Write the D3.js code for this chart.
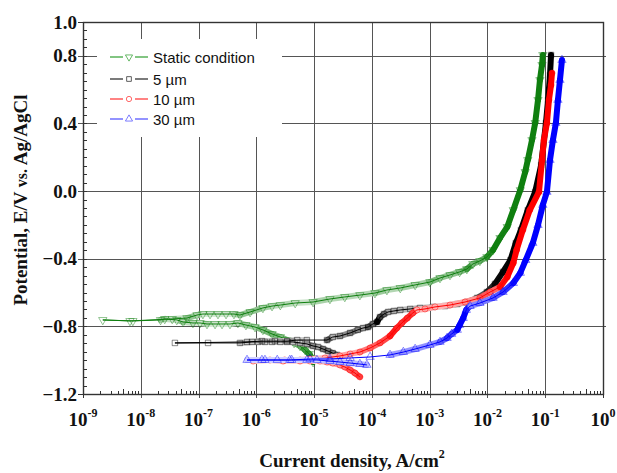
<!DOCTYPE html>
<html>
<head>
<meta charset="utf-8">
<script src="https://cdn.jsdelivr.net/npm/d3@7"></script>
<style>
  body { margin: 0; background: #fff; }
  svg { display: block; }
</style>
</head>
<body>
<svg id="chart" width="617" height="473"></svg>
<script>
// Potentiodynamic polarization curves: [current density (A/cm^2), potential (V vs Ag/AgCl)]
const seriesNames = ["Static condition", "5 µm", "10 µm", "30 µm"];

const staticCondition = [
  [9.6e-6, -1.011], [9.2e-6, -0.987], [8.2e-6, -0.963], [7.0e-6, -0.940], [5.7e-6, -0.916],
  [4.5e-6, -0.898], [3.4e-6, -0.881], [2.6e-6, -0.863], [1.87e-6, -0.845], [1.30e-6, -0.821],
  [9.5e-7, -0.804], [6.6e-7, -0.792], [4.8e-7, -0.780], [3.5e-7, -0.786], [2.55e-7, -0.786],
  [1.93e-7, -0.786], [1.40e-7, -0.786], [1.06e-7, -0.780], [8.0e-8, -0.780], [5.4e-8, -0.774],
  [4.2e-8, -0.762], [2.6e-8, -0.756], [2.2e-8, -0.762], [7.3e-9, -0.768], [2.2e-9, -0.762],
  [6.5e-9, -0.768], [3.5e-8, -0.756], [6.3e-8, -0.751], [9.4e-8, -0.733], [1.19e-7, -0.727],
  [1.58e-7, -0.727], [2.17e-7, -0.727], [2.99e-7, -0.727], [4.1e-7, -0.727], [5.2e-7, -0.733],
  [7.8e-7, -0.715], [1.30e-6, -0.691], [1.87e-6, -0.680], [2.6e-6, -0.674], [4.7e-6, -0.662],
  [9.6e-6, -0.656], [1.88e-5, -0.638], [3.4e-5, -0.626], [6.2e-5, -0.615], [1.13e-4, -0.603],
  [1.82e-4, -0.585], [3.1e-4, -0.573], [5.6e-4, -0.555], [1.01e-3, -0.538], [1.51e-3, -0.514],
  [2.25e-3, -0.496], [3.3e-3, -0.478], [4.4e-3, -0.461], [5.6e-3, -0.431], [7.4e-3, -0.413],
  [9.8e-3, -0.390], [1.25e-2, -0.348], [1.65e-2, -0.277], [2.2e-2, -0.212], [2.8e-2, -0.112],
  [3.7e-2, 0.006], [4.5e-2, 0.113], [5.0e-2, 0.184], [5.9e-2, 0.302], [6.7e-2, 0.403],
  [7.5e-2, 0.539], [8.1e-2, 0.657], [8.8e-2, 0.746], [9.1e-2, 0.805]
];

const flow5um = [
  [2.5e-5, -0.969], [2.1e-5, -0.958], [1.74e-5, -0.946], [1.43e-5, -0.934], [1.17e-5, -0.922],
  [9.6e-6, -0.916], [7.5e-6, -0.904], [5.7e-6, -0.898], [4.3e-6, -0.892], [3.4e-6, -0.892],
  [2.6e-6, -0.892], [1.87e-6, -0.892], [1.41e-6, -0.892], [1.07e-6, -0.892], [8.4e-7, -0.892],
  [5.2e-7, -0.898], [1.46e-7, -0.898], [3.9e-8, -0.898],
  [6.9e-7, -0.892], [1.25e-6, -0.887], [2.1e-6, -0.887], [3.4e-6, -0.887], [5.1e-6, -0.881],
  [7.5e-6, -0.881], [1.67e-5, -0.881], [2.1e-5, -0.863], [2.8e-5, -0.857], [4.2e-5, -0.839],
  [5.7e-5, -0.821], [7.0e-5, -0.810], [8.6e-5, -0.804], [1.04e-4, -0.786], [1.23e-4, -0.774],
  [1.38e-4, -0.745], [1.62e-4, -0.727], [1.90e-4, -0.715], [2.4e-4, -0.709], [3.1e-4, -0.703],
  [4.6e-4, -0.697], [6.8e-4, -0.691], [1.14e-3, -0.685], [1.84e-3, -0.680], [3.0e-3, -0.668],
  [4.4e-3, -0.656], [6.6e-3, -0.632], [9.8e-3, -0.597], [1.35e-2, -0.549], [1.86e-2, -0.478],
  [2.5e-2, -0.408], [3.1e-2, -0.307], [3.8e-2, -0.230], [5.0e-2, -0.112], [6.7e-2, -0.005],
  [8.5e-2, 0.154], [0.103, 0.403], [0.112, 0.539], [0.121, 0.687], [0.126, 0.805]
];

const flow10um = [
  [6.2e-5, -1.099], [5.1e-5, -1.076], [4.2e-5, -1.058], [3.4e-5, -1.040], [2.8e-5, -1.028],
  [2.1e-5, -1.017], [1.67e-5, -1.011], [1.26e-5, -1.005], [8.5e-6, -1.005], [5.7e-6, -1.005],
  [2.9e-6, -1.005], [1.72e-6, -0.999], [8.8e-7, -1.005],
  [3.1e-6, -0.999], [5.7e-6, -0.999], [8.5e-6, -0.993], [1.54e-5, -0.987], [2.8e-5, -0.975],
  [4.2e-5, -0.963], [6.2e-5, -0.952], [9.3e-5, -0.928], [1.38e-4, -0.898], [2.06e-4, -0.857],
  [2.7e-4, -0.810], [3.3e-4, -0.780], [4.1e-4, -0.751], [5.1e-4, -0.721], [6.0e-4, -0.703],
  [8.3e-4, -0.697], [1.24e-3, -0.685], [2.25e-3, -0.674], [4.1e-3, -0.656], [7.4e-3, -0.632],
  [1.11e-2, -0.597], [1.65e-2, -0.567], [2.2e-2, -0.508], [2.8e-2, -0.425], [3.2e-2, -0.348],
  [4.1e-2, -0.230], [5.4e-2, -0.112], [7.8e-2, -0.005], [8.8e-2, 0.184], [9.5e-2, 0.302],
  [0.107, 0.403], [0.116, 0.539], [0.126, 0.627], [0.131, 0.698]
];

const flow30um = [
  [8.2e-5, -1.028], [6.2e-5, -1.023], [4.2e-5, -1.017], [2.8e-5, -1.011], [1.88e-5, -1.005],
  [1.12e-5, -0.999], [7.5e-6, -0.999], [4.1e-6, -0.999], [2.3e-6, -0.999], [1.25e-6, -0.999],
  [6.9e-7, -0.999],
  [1.41e-6, -0.999], [3.8e-6, -0.999], [8.5e-6, -0.993], [1.88e-5, -0.993], [4.2e-5, -0.987],
  [9.3e-5, -0.981], [2.06e-4, -0.969], [3.5e-4, -0.952], [5.6e-4, -0.934], [1.01e-3, -0.910],
  [1.51e-3, -0.892], [2.0e-3, -0.869], [2.4e-3, -0.845], [3.0e-3, -0.821], [3.3e-3, -0.792],
  [3.8e-3, -0.751], [4.3e-3, -0.703], [5.0e-3, -0.680], [7.4e-3, -0.662], [1.25e-2, -0.632],
  [1.86e-2, -0.597], [2.8e-2, -0.544], [3.7e-2, -0.484], [4.6e-2, -0.408], [6.1e-2, -0.307],
  [7.5e-2, -0.201], [9.1e-2, -0.082], [0.107, -0.005], [0.121, 0.184], [0.136, 0.302],
  [0.153, 0.403], [0.166, 0.539], [0.180, 0.657], [0.195, 0.775]
];

const xTickExponents = [-9, -8, -7, -6, -5, -4, -3, -2, -1, 0];
const yTickValues = [1.0, 0.8, 0.4, 0.0, -0.4, -0.8, -1.2];
const yGridValues = [0.8, 0.4, 0.0, -0.4, -0.8];

const svg = d3.select("#chart");
const plot = { left: 83, right: 603, top: 22, bottom: 394 };

const x = d3.scaleLog().domain([1e-9, 1]).range([plot.left, plot.right]);
const y = d3.scaleLinear().domain([-1.2, 1.0]).range([plot.bottom, plot.top]);

const serif = "'Liberation Serif', 'Times New Roman', serif";
const sans = "'Liberation Sans', Arial, sans-serif";

// ---- grid ----
const grid = svg.append("g").attr("stroke", "#555").attr("stroke-width", 1).attr("shape-rendering", "crispEdges");
xTickExponents.slice(1, -1).forEach(e => {
  const xx = Math.round(x(Math.pow(10, e))) + 0.5;
  grid.append("line").attr("x1", xx).attr("x2", xx).attr("y1", plot.top).attr("y2", plot.bottom + 4);
});
yGridValues.forEach(v => {
  const yy = Math.round(y(v)) + 0.5;
  grid.append("line").attr("x1", plot.left - 5).attr("x2", plot.right + 3).attr("y1", yy).attr("y2", yy);
});

// ---- minor / major ticks ----
const ticks = svg.append("g").attr("stroke", "#333").attr("stroke-width", 1).attr("shape-rendering", "crispEdges");
xTickExponents.slice(0, -1).forEach(e => {
  for (let m = 2; m <= 9; m++) {
    const xx = Math.round(x(m * Math.pow(10, e))) + 0.5;
    ticks.append("line").attr("x1", xx).attr("x2", xx).attr("y1", plot.bottom).attr("y2", plot.bottom - (m === 5 ? 5 : 3.5));
  }
});
[1e-9, 1].forEach(v => {
  const xx = Math.round(x(v)) + 0.5;
  ticks.append("line").attr("x1", xx).attr("x2", xx).attr("y1", plot.bottom).attr("y2", plot.bottom + 4);
});
d3.range(-1.2, 1.0001, 0.05).forEach(v => {
  const yy = Math.round(y(v)) + 0.5;
  ticks.append("line").attr("x1", plot.left).attr("x2", plot.left + 4).attr("y1", yy).attr("y2", yy);
});
[1.0, -1.2].forEach(v => {
  const yy = Math.round(y(v)) + 0.5;
  ticks.append("line").attr("x1", plot.left - 5).attr("x2", plot.left).attr("y1", yy).attr("y2", yy);
});

// ---- frame ----
svg.append("rect")
  .attr("x", plot.left + 0.5).attr("y", plot.top + 0.5)
  .attr("width", plot.right - plot.left).attr("height", plot.bottom - plot.top)
  .attr("fill", "none").attr("stroke", "#333").attr("stroke-width", 1.4);

// ---- tick labels ----
const yLabels = svg.append("g").attr("font-family", serif).attr("font-weight", "bold")
  .attr("font-size", 19).attr("fill", "#111").attr("text-anchor", "end");
yTickValues.forEach(v => {
  yLabels.append("text").attr("x", plot.left - 6).attr("y", y(v) + 6.5).text(d3.format(".1f")(v));
});

const xLabels = svg.append("g").attr("font-family", serif).attr("font-weight", "bold")
  .attr("fill", "#111").attr("text-anchor", "middle");
xTickExponents.forEach(e => {
  const t = xLabels.append("text").attr("x", x(Math.pow(10, e))).attr("y", 426).attr("font-size", 19);
  t.append("tspan").text("10");
  t.append("tspan").attr("font-size", 12).attr("dy", -9).text(e === 0 ? "0" : "-" + Math.abs(e));
});

// ---- axis titles ----
const xt = svg.append("text").attr("x", 352).attr("y", 467).attr("text-anchor", "middle")
  .attr("font-family", serif).attr("font-weight", "bold").attr("font-size", 19).attr("fill", "#111");
xt.append("tspan").text("Current density, A/cm");
xt.append("tspan").attr("font-size", 12).attr("dy", -9).text("2");

const yt = svg.append("text").attr("transform", "translate(27,200) rotate(-90)").attr("text-anchor", "middle")
  .attr("font-family", serif).attr("font-weight", "bold").attr("font-size", 19).attr("fill", "#111");
yt.append("tspan").text("Potential, E/V ");
yt.append("tspan").attr("font-size", 16).text("vs.");
yt.append("tspan").text(" Ag/AgCl");

// ---- curves ----
const series = [
  { name: seriesNames[0], data: staticCondition, color: "#0f7f0f", legendColor: "#2e9e2e", symbol: d3.symbolTriangle, rot: 180 },
  { name: seriesNames[1], data: flow5um, color: "#000000", legendColor: "#222222", symbol: d3.symbolSquare, rot: 0 },
  { name: seriesNames[2], data: flow10um, color: "#ff0000", legendColor: "#ff3030", symbol: d3.symbolCircle, rot: 0 },
  { name: seriesNames[3], data: flow30um, color: "#0000ff", legendColor: "#4a4aff", symbol: d3.symbolTriangle, rot: 0 }
];

const curves = svg.append("g");
const lineGen = d3.line().x(d => x(d[0])).y(d => y(d[1]));

series.forEach(s => {
  const g = curves.append("g");
  const px = s.data.map(d => [x(d[0]), y(d[1])]);
  // runs of overlapping markers read as a band, darker where the curve is steep;
  // wide, flat steps near the corrosion potential stay as a thin line with open markers
  const bandSegs = [];
  for (let k = 1; k < px.length; k++) {
    const [x0, y0] = px[k - 1], [x1, y1] = px[k];
    const dx = Math.abs(x1 - x0);
    if (dx < 18) {
      const len = Math.max(Math.hypot(x1 - x0, y1 - y0), 0.01);
      const steep = Math.abs(y1 - y0) / len;
      bandSegs.push({ x0, y0, x1, y1, a: Math.min(1, 0.18 + 0.95 * steep) });
    }
  }
  g.selectAll("line.band").data(bandSegs).join("line").attr("class", "band")
    .attr("x1", d => d.x0).attr("y1", d => d.y0).attr("x2", d => d.x1).attr("y2", d => d.y1)
    .attr("stroke", d => d3.interpolateRgb("#ffffff", s.color)(d.a))
    .attr("stroke-width", 6).attr("stroke-linecap", "round");
  g.append("path").datum(s.data).attr("d", lineGen)
    .attr("fill", "none").attr("stroke", s.color).attr("stroke-width", 1);
  const sym = d3.symbol().type(s.symbol).size(30);
  g.selectAll("path.m").data(s.data).join("path").attr("class", "m")
    .attr("d", sym)
    .attr("transform", d => `translate(${x(d[0])},${y(d[1])}) rotate(${s.rot})`)
    .attr("fill", "none").attr("stroke", s.color).attr("stroke-opacity", 0.5).attr("stroke-width", 0.9);
});

// ---- legend ----
const legend = svg.append("g");
legend.append("rect").attr("x", 97).attr("y", 39).attr("width", 185).attr("height", 98).attr("fill", "#fff");
const legendRows = [57, 79, 99, 119];
series.forEach((s, i) => {
  const ly = legendRows[i];
  legend.append("line").attr("x1", 110).attr("x2", 123).attr("y1", ly).attr("y2", ly)
    .attr("stroke", s.legendColor).attr("stroke-width", 1.2);
  legend.append("line").attr("x1", 135).attr("x2", 148).attr("y1", ly).attr("y2", ly)
    .attr("stroke", s.legendColor).attr("stroke-width", 1.2);
  legend.append("path").attr("d", d3.symbol().type(s.symbol).size(22)())
    .attr("transform", `translate(129,${ly}) rotate(${s.rot})`)
    .attr("fill", "none").attr("stroke", s.legendColor).attr("stroke-opacity", 0.8).attr("stroke-width", 0.9);
  legend.append("text").attr("x", 153).attr("y", ly + 5.5)
    .attr("font-family", sans).attr("font-size", 15).attr("fill", "#111").text(s.name);
});
</script>
</body>
</html>
